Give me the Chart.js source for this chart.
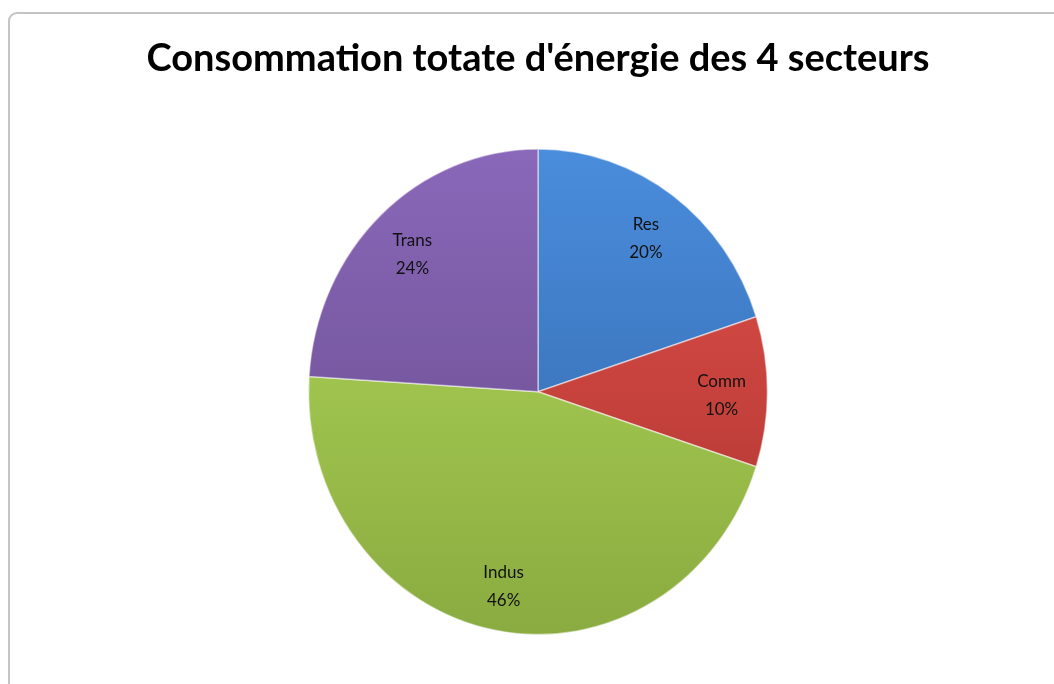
<!DOCTYPE html>
<html>
<head>
<meta charset="utf-8">
<script src="https://cdn.jsdelivr.net/npm/chart.js@4"></script>
<style>
  html, body { margin: 0; padding: 0; background: #fff; }
  #wrap { position: relative; width: 1054px; height: 684px; overflow: hidden; }
  #frame {
    position: absolute; left: 8px; top: 12px; width: 1100px; height: 700px;
    border-left: 2px solid #c4c4c4; border-top: 2px solid #c4c4c4;
    border-top-left-radius: 9px; box-sizing: border-box;
  }
  #chart { position: absolute; left: 0; top: 0; }
</style>
</head>
<body>
<div id="wrap">
  <div id="frame"></div>
  <canvas id="chart" width="1054" height="684"></canvas>
</div>
<script>
// Chart data
const sectors = ['Res', 'Comm', 'Indus', 'Trans'];
const shares = [20, 10, 46, 24];
const titleText = "Consommation totate d'énergie des 4 secteurs";

// light / dark gradient stops per slice (Excel 2007 look)
const topColors = ['#4a8ddc', '#e2524b', '#b2da5a', '#8a68ba'];
const bottomColors = ['#3163a6', '#ab322f', '#8aab40', '#634886'];

const stretchY = 1.058;
const fontFamily = 'Lato, "Open Sans", sans-serif';

// fit title to the width it has in the original (~790px)
const measure = document.createElement('canvas').getContext('2d');
measure.font = 'bold 30px ' + fontFamily;
const titleSize = Math.round(30 * 790 / measure.measureText(titleText).width);

// slightly stretch the pie vertically like the original
const stretchPlugin = {
    id: 'stretch',
    beforeDatasetsDraw(chart) {
        const arc = chart.getDatasetMeta(0).data[0];
        const ctx = chart.ctx;
        ctx.save();
        ctx.translate(arc.x, arc.y);
        ctx.scale(1, stretchY);
        ctx.translate(-arc.x, -arc.y);
    },
    afterDatasetsDraw(chart) {
        chart.ctx.restore();
    }
};

// labels "name / pct" inside each slice
const sliceLabels = {
    id: 'sliceLabels',
    afterDatasetsDraw(chart) {
        const ctx = chart.ctx;
        const meta = chart.getDatasetMeta(0);
        ctx.save();
        ctx.font = '17px ' + fontFamily;
        ctx.fillStyle = '#111';
        ctx.textAlign = 'center';
        ctx.textBaseline = 'middle';
        meta.data.forEach((arc, i) => {
            const p = arc.getProps(['x', 'y', 'startAngle', 'endAngle', 'outerRadius'], true);
            const mid = (p.startAngle + p.endAngle) / 2;
            const r = p.outerRadius * 0.8;
            const x = p.x + Math.cos(mid) * r;
            const y = p.y + Math.sin(mid) * r * stretchY + 4;
            ctx.fillText(sectors[i], x, y - 14);
            ctx.fillText(shares[i] + '%', x, y + 14);
        });
        ctx.restore();
    }
};

function sliceFill(context) {
    const chart = context.chart;
    const area = chart.chartArea;
    if (!area) return topColors[context.dataIndex];
    const g = chart.ctx.createLinearGradient(0, area.top, 0, area.bottom);
    g.addColorStop(0, topColors[context.dataIndex]);
    g.addColorStop(1, bottomColors[context.dataIndex]);
    return g;
}

new Chart(document.getElementById('chart'), {
    type: 'pie',
    data: {
        labels: sectors,
        datasets: [{
            data: shares,
            backgroundColor: sliceFill,
            borderColor: 'rgba(255,255,255,0.5)',
            borderWidth: 1.5
        }]
    },
    options: {
        responsive: false,
        animation: false,
        layout: {
            padding: { top: 10, bottom: 62, left: 22, right: 0 }
        },
        plugins: {
            legend: { display: false },
            tooltip: { enabled: false },
            title: {
                display: true,
                text: titleText,
                color: '#000',
                font: { family: fontFamily, size: titleSize, weight: 'bold' },
                padding: { top: 26, bottom: 80 }
            }
        }
    },
    plugins: [stretchPlugin, sliceLabels]
});
</script>
</body>
</html>
